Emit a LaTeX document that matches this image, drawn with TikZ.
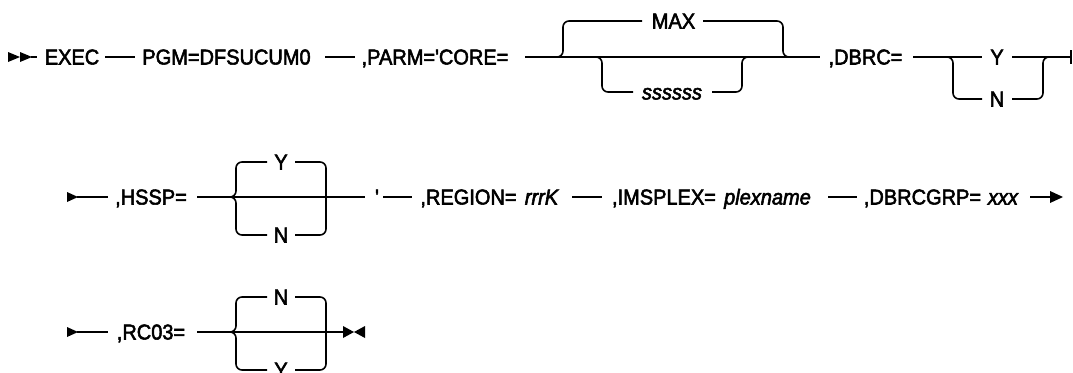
\documentclass[tikz,border=0pt]{standalone}
\usepackage{fontspec}
\newfontfamily\railfont[FakeBold=2.5,FakeStretch=0.93]{Liberation Sans}
\begin{document}
\begin{tikzpicture}[x=1pt,y=-1pt,
  rail/.style={line width=1.6pt},
  br/.style={line width=1.6pt, rounded corners=6pt},
  txt/.style={inner sep=0pt, anchor=base, font=\railfont\fontsize{21.5}{25}\selectfont},
  var/.style={txt, font=\railfont\fontsize{21.5}{25}\selectfont\itshape},
  tip/.style={fill=black}]
\useasboundingbox (0,0) rectangle (1073,372);

% ---------------- row 1 ----------------
\node[txt] (exec) at (72,64.5) {EXEC};
\node[txt] (pgm) at (226.5,64.5) {PGM=DFSUCUM0};
\node[txt] (parm) at (435,64.5) {,PARM='CORE=};
\node[txt] (max) at (673.5,28.5) {MAX};
\node[var] (sss) at (672,99.5) {ssssss};
\node[txt] (dbrc) at (865.5,64.5) {,DBRC=};
\node[txt] (y1) at (997,64.5) {Y};
\node[txt] (n1) at (997,106.5) {N};

\fill[tip] (8,52) -- (8,62) -- (20,57) -- cycle;
\fill[tip] (20,52) -- (20,62) -- (32,57) -- cycle;
\coordinate (s1) at (31,57);
\coordinate (s1e) at (37,57);
\draw[rail] (s1) -- (s1e);
\coordinate (e1a) at (105,57); \coordinate (e1b) at (135,57);
\draw[rail] (e1a) -- (e1b);
\coordinate (p1a) at (325,57); \coordinate (p1b) at (355,57);
\draw[rail] (p1a) -- (p1b);
\coordinate (c1a) at (525,57); \coordinate (c1b) at (820,57);
\draw[rail] (c1a) -- (c1b);
\coordinate (mxa) at (553,57); \coordinate (mxb) at (563,21); \coordinate (mxc) at (642,21);
\coordinate (mxd) at (703,21); \coordinate (mxe) at (783,57); \coordinate (mxf) at (790,57);
\draw[br] (mxa) -| (mxb) -- (mxc);
\draw[br] (mxd) -| (mxe) -- (mxf);
\coordinate (ssa) at (593,57); \coordinate (ssb) at (602,92); \coordinate (ssc) at (633,92);
\coordinate (ssd) at (712,92); \coordinate (sse) at (742,57); \coordinate (ssf) at (750,57);
\draw[br] (ssa) -| (ssb) -- (ssc);
\draw[br] (ssd) -| (sse) -- (ssf);
\coordinate (d1a) at (913,57); \coordinate (d1b) at (982,57);
\coordinate (d1c) at (1012,57); \coordinate (d1d) at (1071,57);
\draw[rail] (d1a) -- (d1b);
\draw[rail] (d1c) -- (d1d);
\coordinate (n1a) at (943,57); \coordinate (n1b) at (953,99); \coordinate (n1c) at (982,99);
\coordinate (n1d) at (1012,99); \coordinate (n1e) at (1043,57); \coordinate (n1f) at (1052,57);
\draw[br] (n1a) -| (n1b) -- (n1c);
\draw[br] (n1d) -| (n1e) -- (n1f);
\coordinate (bar1) at (1071,50); \coordinate (bar2) at (1071,64);
\draw[line width=2.2pt] (bar1) -- (bar2);

% ---------------- row 2 ----------------
\node[txt] (hssp) at (151,204.5) {,HSSP=};
\node[txt] (y2) at (281,169.5) {Y};
\node[txt] (n2) at (281,242.5) {N};
\node[txt] (quote) at (377,204.5) {'};
\node[txt] (region) at (468.5,204.5) {,REGION=};
\node[var] (rrrk) at (541.5,204.5) {rrrK};
\node[txt] (imsplex) at (664,204.5) {,IMSPLEX=};
\node[var] (plex) at (767.5,204.5) {plexname};
\node[txt] (dbrcgrp) at (922.5,204.5) {,DBRCGRP=};
\node[var] (xxx) at (1003,204.5) {xxx};

\fill[tip] (67,192) -- (67,202) -- (78,197) -- cycle;
\coordinate (s2a) at (77,197); \coordinate (s2b) at (108,197);
\draw[rail] (s2a) -- (s2b);
\coordinate (h2a) at (197,197); \coordinate (h2b) at (365,197);
\draw[rail] (h2a) -- (h2b);
\coordinate (hb0) at (229,197); \coordinate (hbY) at (236,162); \coordinate (hbY1) at (267,162);
\coordinate (hbY2) at (295,162); \coordinate (hb9) at (326,197);
\coordinate (hbN) at (236,235); \coordinate (hbN1) at (267,235); \coordinate (hbN2) at (295,235);
\draw[br] (hb0) -| (hbY) -- (hbY1);
\draw[br] (hbY2) -| (hb9);
\draw[br] (hb0) -| (hbN) -- (hbN1);
\draw[br] (hbN2) -| (hb9);
\coordinate (q2a) at (383,197); \coordinate (q2b) at (412,197);
\draw[rail] (q2a) -- (q2b);
\coordinate (r2a) at (572,197); \coordinate (r2b) at (602,197);
\draw[rail] (r2a) -- (r2b);
\coordinate (i2a) at (828,197); \coordinate (i2b) at (857,197);
\draw[rail] (i2a) -- (i2b);
\coordinate (x2a) at (1030,197); \coordinate (x2b) at (1051,197);
\draw[rail] (x2a) -- (x2b);
\fill[tip] (1050,191) -- (1050,203) -- (1063,197) -- cycle;

% ---------------- row 3 ----------------
\node[txt] (rc03) at (151,339.5) {,RC03=};
\node[txt] (n3) at (281,304.5) {N};
\node[txt] (y3) at (281,377.5) {Y};

\fill[tip] (67,327) -- (67,337) -- (78,332) -- cycle;
\coordinate (s3a) at (77,332); \coordinate (s3b) at (108,332);
\draw[rail] (s3a) -- (s3b);
\coordinate (m3a) at (197,332); \coordinate (m3b) at (344,332);
\draw[rail] (m3a) -- (m3b);
\coordinate (rb0) at (229,332); \coordinate (rbN) at (236,297); \coordinate (rbN1) at (267,297);
\coordinate (rbN2) at (295,297); \coordinate (rb9) at (326,332);
\coordinate (rbY) at (236,370); \coordinate (rbY1) at (267,370); \coordinate (rbY2) at (295,370);
\draw[br] (rb0) -| (rbN) -- (rbN1);
\draw[br] (rbN2) -| (rb9);
\draw[br] (rb0) -| (rbY) -- (rbY1);
\draw[br] (rbY2) -| (rb9);
\fill[tip] (343,326) -- (343,338) -- (354,332) -- cycle;
\fill[tip] (365,326) -- (365,338) -- (354,332) -- cycle;
\end{tikzpicture}
\end{document}
